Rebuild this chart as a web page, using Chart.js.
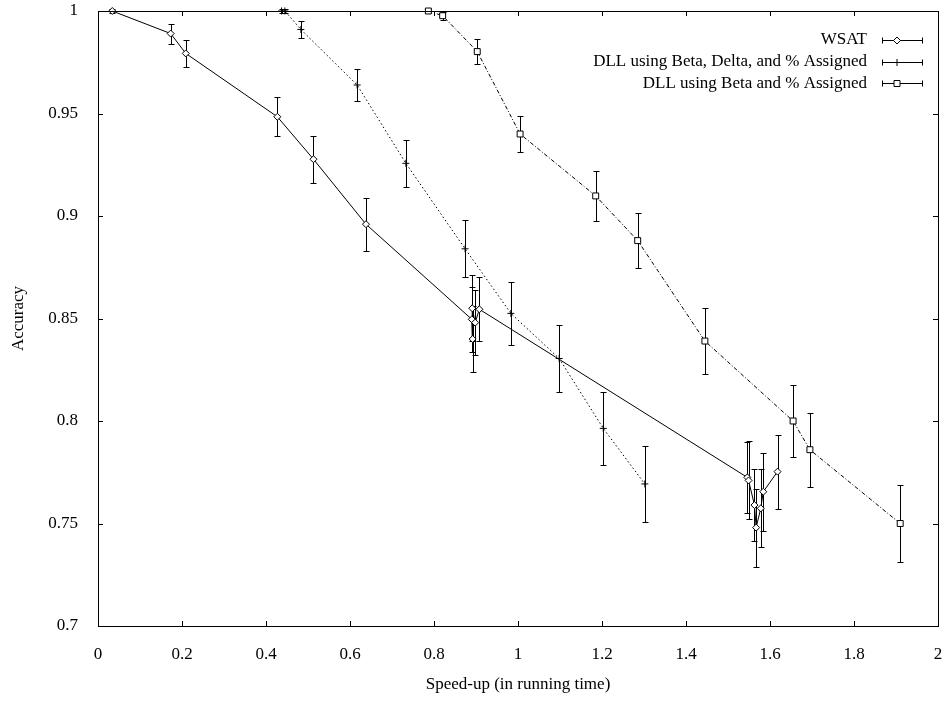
<!DOCTYPE html>
<html lang="en">
<head>
<meta charset="UTF-8">
<title>Accuracy vs Speed-up</title>
<script src="https://cdn.jsdelivr.net/npm/chart.js@4"></script>
<style>
  html, body { margin: 0; padding: 0; background: #fff; }
  #wrap { width: 948px; height: 709px; }
</style>
</head>
<body>
<div id="wrap"><canvas id="chart"></canvas></div>
<script>
// WSAT (diamonds, solid line)
const wsatX   = [0.034, 0.173, 0.209, 0.427, 0.513, 0.638, 0.890, 0.892, 0.891, 0.898, 0.908, 1.546, 1.549, 1.563, 1.567, 1.578, 1.584, 1.618];
const wsatY   = [1.000, 0.989, 0.9793, 0.9484, 0.9277, 0.896, 0.8496, 0.840, 0.855, 0.848, 0.8545, 0.7725, 0.771, 0.759, 0.748, 0.7574, 0.7655, 0.7753];
const wsatErr = [0.0008, 0.0049, 0.0064, 0.0095, 0.0115, 0.013, 0.016, 0.016, 0.016, 0.016, 0.0155, 0.0175, 0.019, 0.0175, 0.019, 0.019, 0.019, 0.018];

// DLL using Beta, Delta, and % Assigned (plus, dotted line)
const bdX   = [0.437, 0.445, 0.483, 0.617, 0.733, 0.874, 0.983, 1.098, 1.203, 1.302];
const bdY   = [1.000, 1.000, 0.991, 0.9639, 0.9257, 0.884, 0.8525, 0.8305, 0.7964, 0.7693];
const bdErr = [0.0008, 0.0008, 0.0042, 0.008, 0.0116, 0.014, 0.0155, 0.0165, 0.0177, 0.0185];

// DLL using Beta and % Assigned (squares, dash-dot line)
const baX   = [0.7865, 0.8206, 0.903, 1.005, 1.185, 1.285, 1.445, 1.655, 1.695, 1.91];
const baY   = [1.000, 0.9977, 0.9802, 0.940, 0.9098, 0.888, 0.839, 0.800, 0.786, 0.750];
const baErr = [0.0008, 0.002, 0.006, 0.009, 0.012, 0.0135, 0.016, 0.0175, 0.018, 0.019];

const xTicks = [0, 0.2, 0.4, 0.6, 0.8, 1, 1.2, 1.4, 1.6, 1.8, 2];
const yTicks = [0.7, 0.75, 0.8, 0.85, 0.9, 0.95, 1];

const FONT = "'Liberation Serif', 'DejaVu Serif', serif";

function points(xs, ys, es) {
  return xs.map((x, i) => ({ x: x, y: ys[i], err: es[i] }));
}

// marker drawing for the key
function drawMarker(ctx, style, x, y) {
  ctx.beginPath();
  if (style === 'rectRot') {
    ctx.moveTo(x - 3.5, y); ctx.lineTo(x, y - 3.5); ctx.lineTo(x + 3.5, y); ctx.lineTo(x, y + 3.5); ctx.closePath();
    ctx.fillStyle = '#fff'; ctx.fill(); ctx.stroke();
  } else if (style === 'rect') {
    ctx.rect(x - 3, y - 3, 6, 6);
    ctx.fillStyle = '#fff'; ctx.fill(); ctx.stroke();
  } else {
    ctx.moveTo(x - 3.5, y); ctx.lineTo(x + 3.5, y);
    ctx.moveTo(x, y - 3.5); ctx.lineTo(x, y + 3.5);
    ctx.stroke();
  }
}

// scales must not add their own label overflow padding
function noPad(s) {
  s.paddingTop = 0; s.paddingBottom = 0; s.paddingLeft = 0; s.paddingRight = 0;
}

const gnuplotLook = {
  id: 'gnuplotLook',
  beforeDatasetsDraw(chart) {
    const ctx = chart.ctx, xs = chart.scales.x, ys = chart.scales.y;
    ctx.save();
    ctx.strokeStyle = '#000';
    ctx.lineWidth = 1;
    chart.data.datasets.forEach(ds => {
      ds.data.forEach(p => {
        const px = Math.round(xs.getPixelForValue(p.x)) + 0.5;
        const top = Math.round(ys.getPixelForValue(p.y + p.err)) + 0.5;
        const bot = Math.round(ys.getPixelForValue(p.y - p.err)) + 0.5;
        ctx.beginPath();
        ctx.moveTo(px, top); ctx.lineTo(px, bot);
        ctx.moveTo(px - 3, top); ctx.lineTo(px + 3, top);
        ctx.moveTo(px - 3, bot); ctx.lineTo(px + 3, bot);
        ctx.stroke();
      });
    });
    ctx.restore();
  },
  afterDraw(chart) {
    const ctx = chart.ctx, a = chart.chartArea, xs = chart.scales.x, ys = chart.scales.y;
    ctx.save();
    ctx.strokeStyle = '#000';
    ctx.lineWidth = 1;
    // frame
    ctx.strokeRect(Math.round(a.left) + 0.5, Math.round(a.top) + 0.5,
                   Math.round(a.right - a.left), Math.round(a.bottom - a.top));
    // inward ticks on all four sides
    ctx.beginPath();
    xTicks.forEach(v => {
      const px = Math.round(xs.getPixelForValue(v)) + 0.5;
      ctx.moveTo(px, a.bottom); ctx.lineTo(px, a.bottom - 5);
      ctx.moveTo(px, a.top); ctx.lineTo(px, a.top + 5);
    });
    yTicks.forEach(v => {
      const py = Math.round(ys.getPixelForValue(v)) + 0.5;
      ctx.moveTo(a.left, py); ctx.lineTo(a.left + 5, py);
      ctx.moveTo(a.right, py); ctx.lineTo(a.right - 5, py);
    });
    ctx.stroke();

    // axis titles
    ctx.fillStyle = '#000';
    ctx.font = '17px ' + FONT;
    ctx.textAlign = 'center';
    ctx.textBaseline = 'middle';
    ctx.fillText('Speed-up (in running time)', (a.left + a.right) / 2, 685);
    ctx.save();
    ctx.translate(19, (a.top + a.bottom) / 2);
    ctx.rotate(-Math.PI / 2);
    ctx.fillText('Accuracy', 0, 0);
    ctx.restore();

    // key
    chart.data.datasets.forEach((ds, i) => {
      const y = 40 + i * 21.7;
      ctx.fillStyle = '#000';
      ctx.textAlign = 'right';
      ctx.fillText(ds.label, 867, y);
      const yy = Math.round(y) + 0.5;
      ctx.beginPath();
      ctx.moveTo(882, yy); ctx.lineTo(923, yy);
      ctx.moveTo(882.5, yy - 3); ctx.lineTo(882.5, yy + 3);
      ctx.moveTo(922.5, yy - 3); ctx.lineTo(922.5, yy + 3);
      ctx.stroke();
      drawMarker(ctx, ds.pointStyle, 897, yy);
    });
    ctx.restore();
  }
};

const common = {
  showLine: true,
  borderColor: '#000',
  borderWidth: 1,
  pointBorderColor: '#000',
  pointBackgroundColor: '#fff',
  pointBorderWidth: 1,
  pointHoverRadius: 4,
  clip: false
};

new Chart(document.getElementById('chart'), {
  type: 'scatter',
  data: {
    datasets: [
      Object.assign({}, common, {
        label: 'WSAT',
        data: points(wsatX, wsatY, wsatErr),
        pointStyle: 'rectRot', pointRadius: 3.5
      }),
      Object.assign({}, common, {
        label: 'DLL using Beta, Delta, and % Assigned',
        data: points(bdX, bdY, bdErr),
        pointStyle: 'cross', pointRadius: 3.5,
        borderDash: [1.5, 2.5]
      }),
      Object.assign({}, common, {
        label: 'DLL using Beta and % Assigned',
        data: points(baX, baY, baErr),
        pointStyle: 'rect', pointRadius: 4.2,
        borderDash: [4, 2, 1, 2]
      })
    ]
  },
  options: {
    responsive: true,
    maintainAspectRatio: false,
    animation: false,
    layout: { padding: { left: 0, top: 11, right: 10, bottom: 0 } },
    plugins: {
      legend: { display: false },
      tooltip: { enabled: false }
    },
    scales: {
      x: {
        type: 'linear', min: 0, max: 2,
        afterFit: s => { s.height = 83; noPad(s); },
        afterBuildTicks: s => { s.ticks = xTicks.map(v => ({ value: v })); },
        grid: { display: false },
        border: { display: false },
        ticks: {
          padding: 10, color: '#000', maxRotation: 0,
          font: { family: FONT, size: 17 },
          callback: v => String(v)
        }
      },
      y: {
        type: 'linear', min: 0.7, max: 1,
        afterFit: s => { s.width = 98; noPad(s); },
        afterBuildTicks: s => { s.ticks = yTicks.map(v => ({ value: v })); },
        grid: { display: false },
        border: { display: false },
        ticks: {
          padding: 12, color: '#000',
          font: { family: FONT, size: 17 },
          callback: v => String(v)
        }
      }
    }
  },
  plugins: [gnuplotLook]
});
</script>
</body>
</html>
